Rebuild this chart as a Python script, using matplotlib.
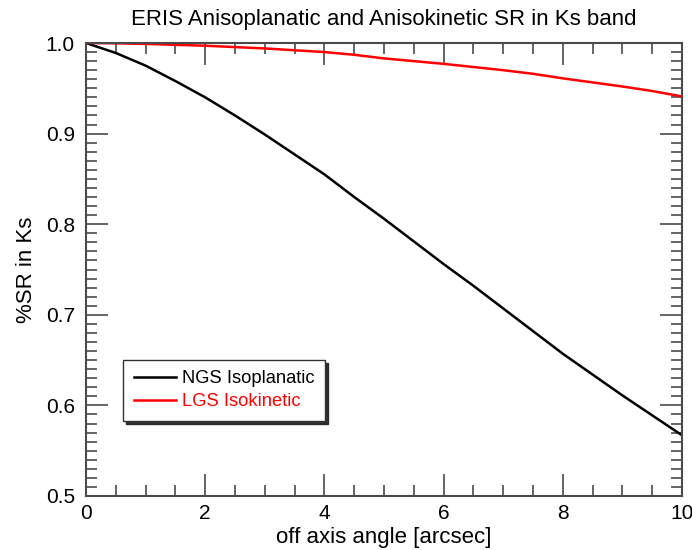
import numpy as np
import matplotlib.pyplot as plt
from matplotlib.ticker import MultipleLocator, FormatStrFormatter

# off-axis angle [arcsec]
angle = [0.0, 0.5, 1.0, 1.5, 2.0, 2.5, 3.0, 3.5, 4.0, 4.5, 5.0,
         5.5, 6.0, 6.5, 7.0, 7.5, 8.0, 8.5, 9.0, 9.5, 10.0]

# Strehl ratio in Ks, normalised to on-axis
sr_ngs = [1.000, 0.989, 0.975, 0.958, 0.940, 0.920, 0.899, 0.877, 0.855, 0.830, 0.806,
          0.781, 0.756, 0.732, 0.707, 0.682, 0.657, 0.634, 0.611, 0.589, 0.567]
sr_lgs = [1.000, 0.9997, 0.999, 0.998, 0.997, 0.9955, 0.994, 0.992, 0.990, 0.987, 0.983,
          0.980, 0.977, 0.9735, 0.970, 0.966, 0.961, 0.9565, 0.952, 0.947, 0.941]

plt.rcParams['font.family'] = ['Liberation Sans', 'DejaVu Sans']

fig = plt.figure(figsize=(6.92, 5.5), dpi=100)
ax = fig.add_axes([0.1243, 0.0982, 0.8613, 0.8236])

ax.plot(angle, sr_ngs, color='black', lw=1.8, label='NGS Isoplanatic')
ax.plot(angle, sr_lgs, color='red', lw=1.8, label='LGS Isokinetic')

ax.set_xlim(0, 10)
ax.set_ylim(0.5, 1.0)
ax.xaxis.set_major_locator(MultipleLocator(2))
ax.xaxis.set_minor_locator(MultipleLocator(0.5))
ax.yaxis.set_major_locator(MultipleLocator(0.1))
ax.yaxis.set_minor_locator(MultipleLocator(0.01))
ax.yaxis.set_major_formatter(FormatStrFormatter('%.1f'))

axis_col = '#4a4a4a'
for sp in ax.spines.values():
    sp.set_color(axis_col)
    sp.set_linewidth(1.5)
ax.tick_params(which='both', direction='in', top=True, right=True,
               color=axis_col, width=1.2, labelsize=15)
ax.tick_params(which='major', length=15.8)
ax.tick_params(which='minor', length=7.9)
ax.tick_params(axis='x', pad=6)
ax.tick_params(axis='y', pad=8)

ax.set_title('ERIS Anisoplanatic and Anisokinetic SR in Ks band', fontsize=16, pad=13)
ax.set_xlabel('off axis angle [arcsec]', fontsize=16, labelpad=3)
ax.set_ylabel('%SR in Ks', fontsize=16, labelpad=6)

leg = ax.legend(loc='lower left', bbox_to_anchor=(0.062, 0.166),
                fancybox=False, framealpha=1, edgecolor='#333333',
                labelcolor='linecolor', fontsize=13.2, handlelength=2.3,
                handletextpad=0.35, borderpad=0.58, labelspacing=0.32,
                borderaxespad=0,
                shadow={'ox': 2.2, 'oy': -2.2, 'facecolor': '0.15',
                        'edgecolor': '0.15', 'alpha': 0.95})
leg.get_frame().set_linewidth(1.0)

fig.savefig('out.png', dpi=100)
